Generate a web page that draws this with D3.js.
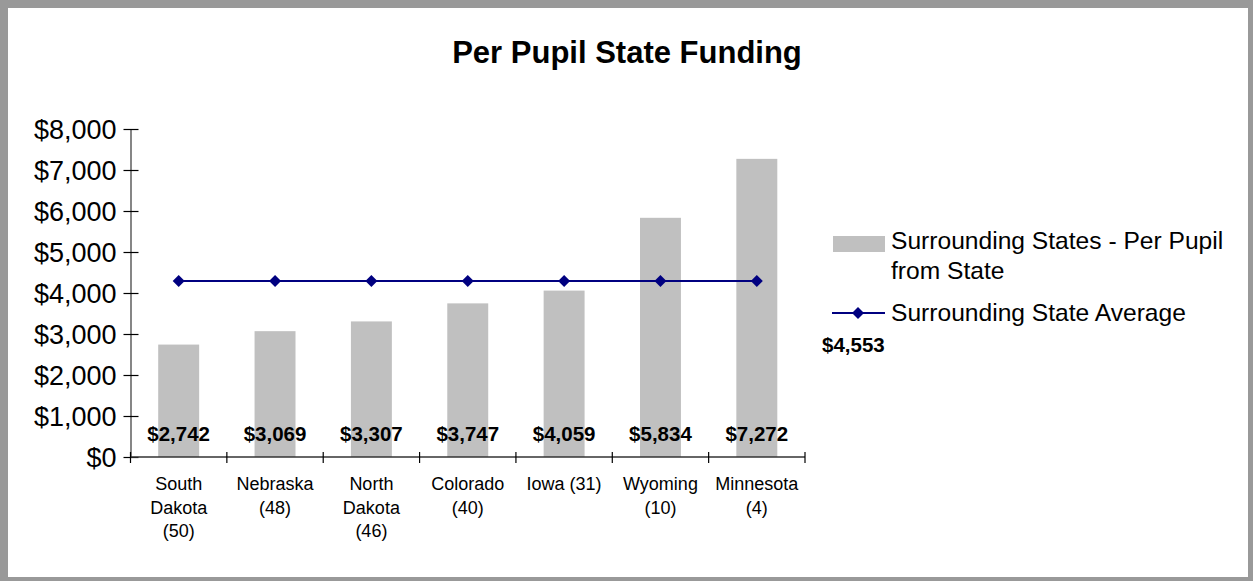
<!DOCTYPE html>
<html>
<head>
<meta charset="utf-8">
<script src="https://cdn.jsdelivr.net/npm/d3@7"></script>
<style>
  html, body { margin: 0; padding: 0; background: #999999; }
  svg { display: block; }
  text { font-family: "Liberation Sans", Arial, sans-serif; fill: #000; }
</style>
</head>
<body>
<svg id="chart" width="1253" height="581"></svg>
<script>
// Per pupil state funding, with state rank in parentheses
const categories = [
  ["South", "Dakota", "(50)"],
  ["Nebraska", "(48)"],
  ["North", "Dakota", "(46)"],
  ["Colorado", "(40)"],
  ["Iowa (31)"],
  ["Wyoming", "(10)"],
  ["Minnesota", "(4)"]
];
const stateFunding = [2742, 3069, 3307, 3747, 4059, 5834, 7272];
const averageLine = [4290, 4290, 4290, 4290, 4290, 4290, 4290];
const averageLabel = "$4,553";
const yTicks = [0, 1000, 2000, 3000, 4000, 5000, 6000, 7000, 8000];

const svg = d3.select("#chart");
const W = 1253, H = 581;

// frame
svg.append("rect").attr("x", 0).attr("y", 0).attr("width", W).attr("height", H).attr("fill", "#999999");
svg.append("rect").attr("x", 8).attr("y", 8).attr("width", 1240).attr("height", 569).attr("fill", "#ffffff");

const plot = { left: 130.5, right: 805, top: 129, bottom: 457 };
const keys = categories.map((c, i) => i);

const x = d3.scaleBand().domain(keys).range([plot.left, plot.right])
  .paddingInner(0.575).paddingOuter(0.2875);
const xCat = d3.scaleBand().domain(keys).range([plot.left, plot.right]);
const y = d3.scaleLinear().domain([0, 8000]).range([plot.bottom, plot.top]);

// title
svg.append("text").attr("x", 627).attr("y", 63).attr("text-anchor", "middle")
  .style("font-size", "31px").style("font-weight", "bold").text("Per Pupil State Funding");

// bars
svg.append("g").selectAll("rect").data(stateFunding).join("rect")
  .attr("x", (d, i) => x(i)).attr("width", x.bandwidth())
  .attr("y", d => y(d)).attr("height", d => y(0) - y(d))
  .attr("fill", "#c0c0c0");

// y axis
const yAxis = svg.append("g").attr("transform", `translate(${plot.left},0)`)
  .call(d3.axisLeft(y).tickValues(yTicks).tickSize(0).tickPadding(14)
    .tickFormat(d => "$" + d3.format(",")(d)));
yAxis.select(".domain").attr("stroke", "#444").attr("stroke-width", 1.3);
yAxis.selectAll(".tick text").style("font-size", "27px").attr("fill", "#000")
  .attr("font-family", null).attr("dy", "0.36em");
yAxis.selectAll(".tick").append("line").attr("x1", -7).attr("x2", 8)
  .attr("stroke", "#000").attr("stroke-width", 1.2);

// x axis
const xAxis = svg.append("g").attr("transform", `translate(0,${plot.bottom})`);
xAxis.append("line").attr("x1", plot.left).attr("x2", plot.right)
  .attr("stroke", "#333").attr("stroke-width", 1.3);
const edges = keys.map(k => xCat(k)).concat([plot.right]);
xAxis.selectAll("line.tk").data(edges).join("line").attr("class", "tk")
  .attr("x1", d => d).attr("x2", d => d).attr("y1", -5).attr("y2", 6)
  .attr("stroke", "#000").attr("stroke-width", 1.2);

const catG = svg.append("g").selectAll("text").data(categories).join("text")
  .attr("text-anchor", "middle").style("font-size", "18px")
  .attr("x", (d, i) => xCat(i) + xCat.bandwidth() / 2)
  .attr("y", 490);
catG.selectAll("tspan").data(d => d).join("tspan")
  .attr("x", function () { return d3.select(this.parentNode).attr("x"); })
  .attr("dy", (d, j) => j === 0 ? 0 : 23.5)
  .text(d => d);

// value labels near base of bars
svg.append("g").selectAll("text").data(stateFunding).join("text")
  .attr("x", (d, i) => x(i) + x.bandwidth() / 2).attr("y", 441)
  .attr("text-anchor", "middle").style("font-size", "20.5px").style("font-weight", "bold")
  .text(d => "$" + d3.format(",")(d));

// average line with diamond markers
const cx = i => xCat(i) + xCat.bandwidth() / 2;
const line = d3.line().x((d, i) => cx(i)).y(d => y(d));
svg.append("path").datum(averageLine).attr("d", line)
  .attr("fill", "none").attr("stroke", "#000080").attr("stroke-width", 2);
const diamond = "M0,-6L6,0L0,6L-6,0Z";
svg.append("g").selectAll("path").data(averageLine).join("path")
  .attr("d", diamond).attr("transform", (d, i) => `translate(${cx(i)},${y(d)})`)
  .attr("fill", "#000080");

// legend
const lg = svg.append("g");
lg.append("rect").attr("x", 833).attr("y", 236).attr("width", 52).attr("height", 16).attr("fill", "#c0c0c0");
lg.append("text").attr("x", 891).attr("y", 249).style("font-size", "24.6px").text("Surrounding States - Per Pupil");
lg.append("text").attr("x", 891).attr("y", 279).style("font-size", "24.6px").text("from State");
lg.append("line").attr("x1", 832).attr("x2", 885).attr("y1", 313).attr("y2", 313)
  .attr("stroke", "#000080").attr("stroke-width", 2);
lg.append("path").attr("d", diamond).attr("transform", "translate(858,313)").attr("fill", "#000080");
lg.append("text").attr("x", 891).attr("y", 321).style("font-size", "24.6px").text("Surrounding State Average");
lg.append("text").attr("x", 822).attr("y", 352).style("font-size", "20.5px").style("font-weight", "bold").text(averageLabel);
</script>
</body>
</html>
